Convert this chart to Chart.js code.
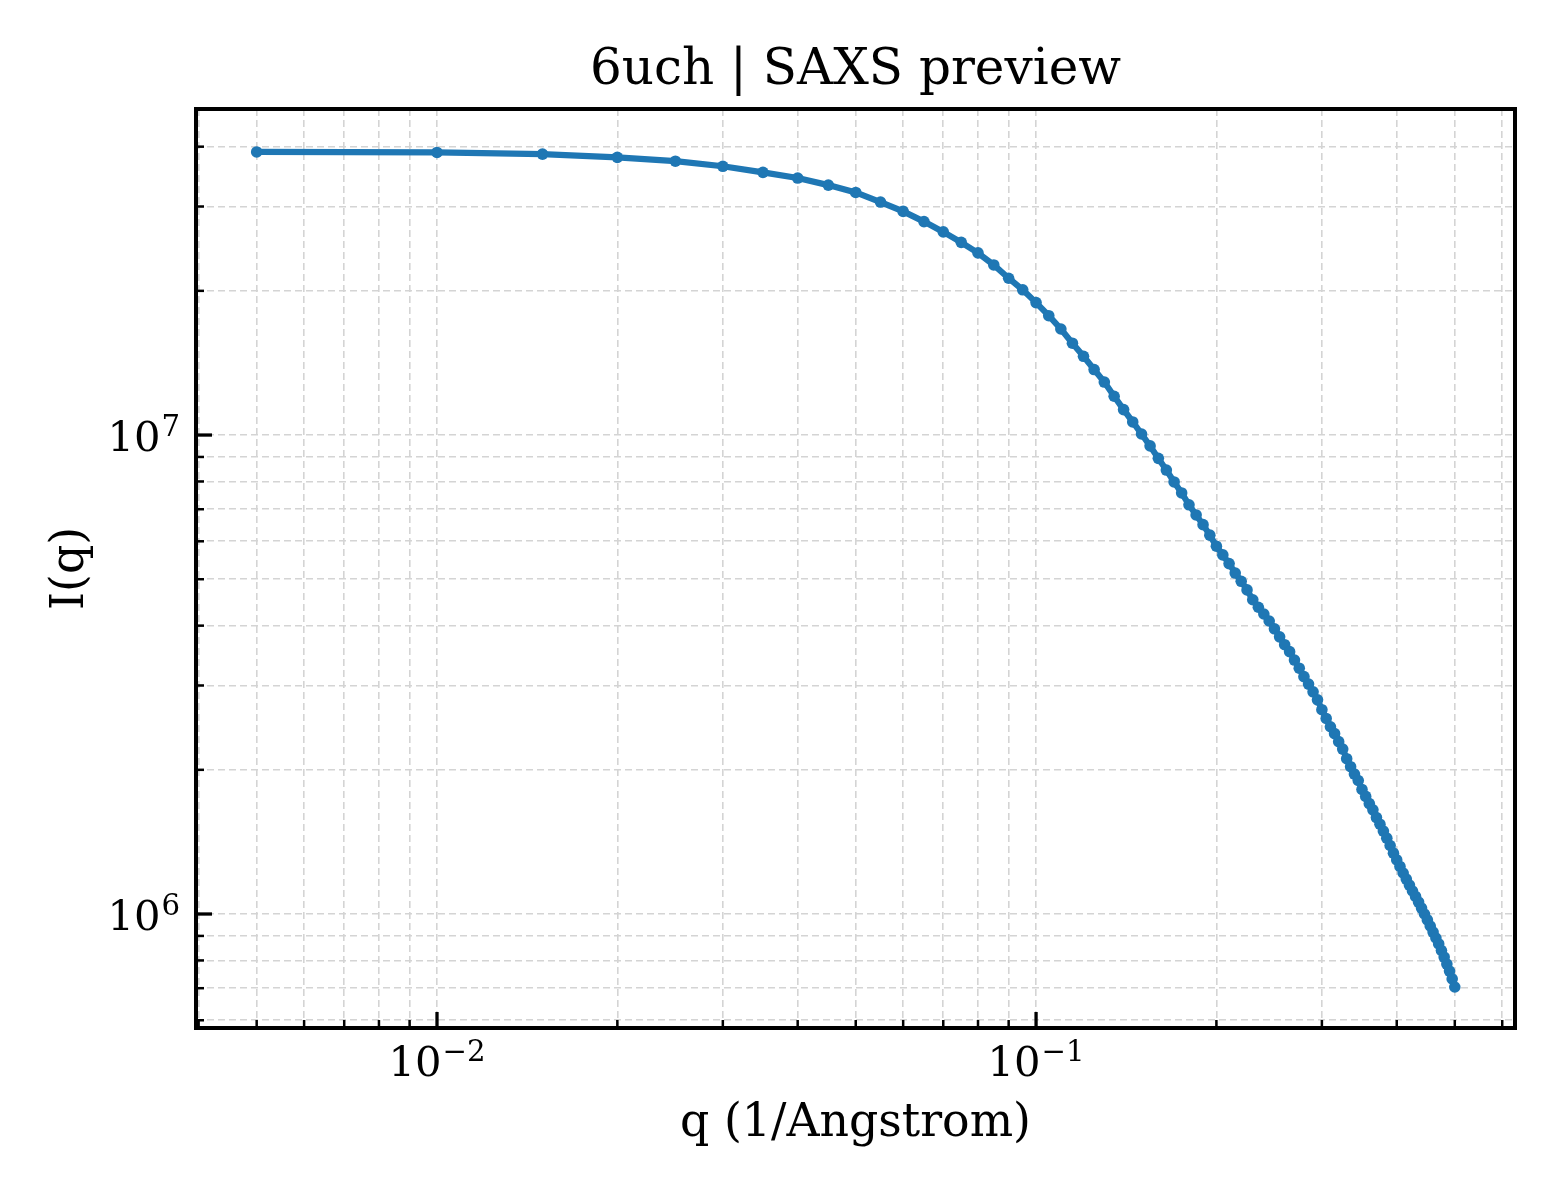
<!DOCTYPE html>
<html><head><meta charset="utf-8">
<script src="https://cdn.jsdelivr.net/npm/chart.js@4.4.1/dist/chart.umd.min.js"></script>
<style>html,body{margin:0;padding:0;background:#fff;}canvas{display:block;}</style>
</head><body>
<canvas id="c" width="1560" height="1200" style="width:1560px;height:1200px"></canvas>
<script>
// ---- data ----
const qValues = [
  0.005, 0.010, 0.015, 0.020, 0.025, 0.030, 0.035, 0.040, 0.045, 0.050,
  0.055, 0.060, 0.065, 0.070, 0.075, 0.080, 0.085, 0.090, 0.095, 0.100,
  0.105, 0.110, 0.115, 0.120, 0.125, 0.130, 0.135, 0.140, 0.145, 0.150,
  0.155, 0.160, 0.165, 0.170, 0.175, 0.180, 0.185, 0.190, 0.195, 0.200,
  0.205, 0.210, 0.215, 0.220, 0.225, 0.230, 0.235, 0.240, 0.245, 0.250,
  0.255, 0.260, 0.265, 0.270, 0.275, 0.280, 0.285, 0.290, 0.295, 0.300,
  0.305, 0.310, 0.315, 0.320, 0.325, 0.330, 0.335, 0.340, 0.345, 0.350,
  0.355, 0.360, 0.365, 0.370, 0.375, 0.380, 0.385, 0.390, 0.395, 0.400,
  0.405, 0.410, 0.415, 0.420, 0.425, 0.430, 0.435, 0.440, 0.445, 0.450,
  0.455, 0.460, 0.465, 0.470, 0.475, 0.480, 0.485, 0.490, 0.495, 0.500
];
const intensityValues = [
  3.90e7, 3.89e7, 3.86e7, 3.80e7, 3.73e7, 3.64e7, 3.535e7, 3.44e7, 3.325e7, 3.21e7,
  3.065e7, 2.93e7, 2.79e7, 2.655e7, 2.525e7, 2.40e7, 2.265e7, 2.125e7, 2.01e7, 1.89e7,
  1.775e7, 1.665e7, 1.555e7, 1.46e7, 1.37e7, 1.29e7, 1.205e7, 1.13e7, 1.065e7, 1.005e7,
  9.49e6, 8.94e6, 8.45e6, 7.98e6, 7.57e6, 7.15e6, 6.81e6, 6.50e6, 6.18e6, 5.86e6,
  5.62e6, 5.39e6, 5.15e6, 4.95e6, 4.75e6, 4.53e6, 4.37e6, 4.23e6, 4.09e6, 3.94e6,
  3.79e6, 3.65e6, 3.53e6, 3.39e6, 3.26e6, 3.13e6, 3.02e6, 2.91e6, 2.80e6, 2.67e6,
  2.56e6, 2.46e6, 2.38e6, 2.29e6, 2.21e6, 2.11e6, 2.03e6, 1.96e6, 1.90e6, 1.82e6,
  1.76e6, 1.70e6, 1.65e6, 1.59e6, 1.54e6, 1.49e6, 1.44e6, 1.39e6, 1.34e6, 1.297e6,
  1.257e6, 1.218e6, 1.183e6, 1.149e6, 1.117e6, 1.088e6, 1.059e6, 1.029e6, 1.000e6, 9.72e5,
  9.44e5, 9.17e5, 8.91e5, 8.66e5, 8.39e5, 8.13e5, 7.86e5, 7.60e5, 7.32e5, 7.04e5
];
const xTickValues = [0.004, 0.005, 0.006, 0.007, 0.008, 0.009, 0.01, 0.02, 0.03, 0.04, 0.05, 0.06, 0.07, 0.08, 0.09, 0.1, 0.2, 0.3, 0.4, 0.5, 0.6];
const xMajorTicks = [0.01, 0.1];
const xMajorLabels = [['10', '\u22122'], ['10', '\u22121']];
const yTickValues = [6e5, 7e5, 8e5, 9e5, 1e6, 2e6, 3e6, 4e6, 5e6, 6e6, 7e6, 8e6, 9e6, 1e7, 2e7, 3e7, 4e7];
const yMajorTicks = [1e6, 1e7];
const yMajorLabels = [['10', '6'], ['10', '7']];
const titleText = '6uch | SAXS preview';
const xLabel = 'q (1/Angstrom)';
const yLabel = 'I(q)';

const FONT = 'DejaVu Serif';
const TICK_SIZE = 41.7, SUP_SIZE = 29.2;

const framePlugin = {
  id: 'frame',
  afterDatasetsDraw(chart) {
    const {ctx, chartArea: a, scales: {x, y}} = chart;
    ctx.save();
    ctx.strokeStyle = '#000';
    ctx.lineCap = 'butt';
    // inward tick marks
    x.ticks.forEach(t => {
      const px = x.getPixelForValue(t.value);
      const major = xMajorTicks.includes(t.value);
      ctx.lineWidth = major ? 3.3 : 2.5;
      const len = major ? 16 : 8;
      ctx.beginPath(); ctx.moveTo(px, a.bottom); ctx.lineTo(px, a.bottom - len); ctx.stroke();
    });
    y.ticks.forEach(t => {
      const py = y.getPixelForValue(t.value);
      const major = yMajorTicks.includes(t.value);
      ctx.lineWidth = major ? 3.3 : 2.5;
      const len = major ? 16 : 8;
      ctx.beginPath(); ctx.moveTo(a.left, py); ctx.lineTo(a.left + len, py); ctx.stroke();
    });
    // spines
    ctx.lineWidth = 4;
    ctx.strokeRect(a.left, a.top, a.right - a.left, a.bottom - a.top);
    // tick labels with superscript exponents
    ctx.fillStyle = '#000';
    ctx.textBaseline = 'alphabetic';
    ctx.textAlign = 'left';
    xMajorTicks.forEach((v, i) => {
      const px = x.getPixelForValue(v);
      const [base, exp] = xMajorLabels[i];
      ctx.font = TICK_SIZE + 'px "' + FONT + '"';
      const w1 = ctx.measureText(base).width;
      ctx.font = SUP_SIZE + 'px "' + FONT + '"';
      const w2 = ctx.measureText(exp).width;
      const start = px - (w1 + w2 + 1) / 2;
      const baseY = a.bottom + 48;
      ctx.font = TICK_SIZE + 'px "' + FONT + '"';
      ctx.fillText(base, start, baseY);
      ctx.font = SUP_SIZE + 'px "' + FONT + '"';
      ctx.fillText(exp, start + w1 + 1, baseY - 15);
    });
    yMajorTicks.forEach((v, i) => {
      const py = y.getPixelForValue(v);
      const [base, exp] = yMajorLabels[i];
      ctx.font = TICK_SIZE + 'px "' + FONT + '"';
      const w1 = ctx.measureText(base).width;
      ctx.font = SUP_SIZE + 'px "' + FONT + '"';
      const w2 = ctx.measureText(exp).width;
      const right = a.left - 16;
      const start = right - (w1 + w2 + 1);
      ctx.font = TICK_SIZE + 'px "' + FONT + '"';
      ctx.fillText(base, start, py + 15.5);
      ctx.font = SUP_SIZE + 'px "' + FONT + '"';
      ctx.fillText(exp, start + w1 + 1, py + 0.5);
    });
    ctx.restore();
  }
};

const points = qValues.map((q, i) => ({x: q, y: intensityValues[i]}));

new Chart(document.getElementById('c'), {
  type: 'line',
  data: {
    datasets: [{
      data: points,
      borderColor: '#1f77b4',
      backgroundColor: '#1f77b4',
      borderWidth: 6.2,
      pointRadius: 5.8,
      pointHoverRadius: 5.8,
      pointBorderWidth: 0,
      pointBackgroundColor: '#1f77b4',
      tension: 0,
      fill: false
    }]
  },
  options: {
    responsive: false,
    animation: false,
    devicePixelRatio: 1,
    events: [],
    layout: {padding: {left: 0, right: 45, top: 0, bottom: 0}},
    plugins: {
      legend: {display: false},
      tooltip: {enabled: false},
      title: {
        display: true,
        text: titleText,
        fullSize: false,
        color: '#000',
        font: {family: FONT, size: 50, weight: 'normal', lineHeight: 1.2},
        padding: {top: 40.7, bottom: 8.3}
      }
    },
    scales: {
      x: {
        type: 'logarithmic',
        position: 'bottom',
        min: 0.00396,
        max: 0.6302,
        bounds: 'data',
        afterBuildTicks: s => { s.ticks = xTickValues.map(v => ({value: v})); },
        afterFit: s => { s.height = 172; },
        ticks: {display: false, autoSkip: false},
        grid: {display: true, drawTicks: false, color: '#d4d4d4', lineWidth: 1.6},
        border: {display: false, dash: [7, 4]},
        title: {
          display: true, text: xLabel, color: '#000',
          font: {family: FONT, size: 45.8, weight: 'normal', lineHeight: 1.2},
          padding: {top: 0, bottom: 48.3}
        }
      },
      y: {
        type: 'logarithmic',
        position: 'left',
        min: 5.781e5,
        max: 4.794e7,
        bounds: 'data',
        afterBuildTicks: s => { s.ticks = yTickValues.map(v => ({value: v})); },
        afterFit: s => { s.width = 196; },
        ticks: {display: false, autoSkip: false},
        grid: {display: true, drawTicks: false, color: '#d4d4d4', lineWidth: 1.6},
        border: {display: false, dash: [7, 4]},
        title: {
          display: true, text: yLabel, color: '#000',
          font: {family: FONT, size: 45.8, weight: 'normal', lineHeight: 1.2},
          padding: {top: 43.7, bottom: 0}
        }
      }
    }
  },
  plugins: [framePlugin]
});
</script>
</body></html>
